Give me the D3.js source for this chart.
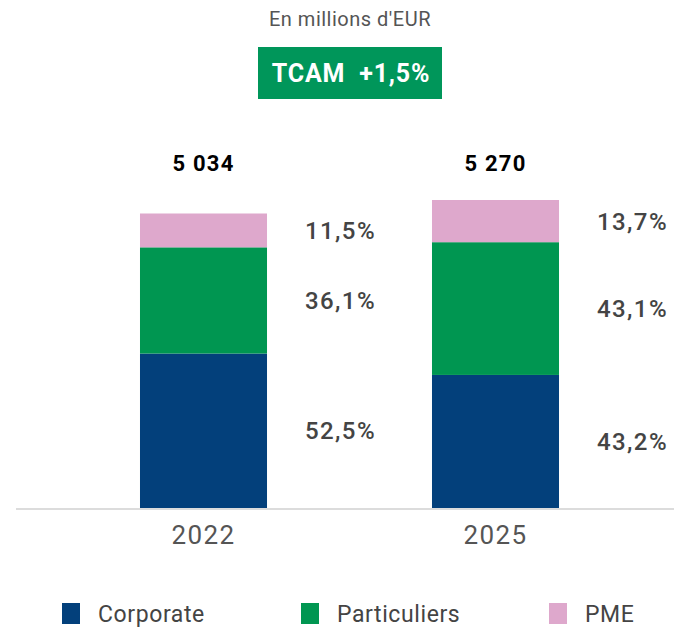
<!DOCTYPE html>
<html><head><meta charset="utf-8">
<script src="https://cdn.jsdelivr.net/npm/d3@7"></script>
<style>body{margin:0;background:#fff;}svg{display:block;}</style>
</head><body>
<svg id="c" width="674" height="628"></svg>
<script>
const years = ["2022", "2025"];
const totals = [5034, 5270];
const totalLabels = ["5 034", "5 270"];
const series = ["Corporate", "Particuliers", "PME"];
const shareCorporate = [52.5, 43.2];
const shareParticuliers = [36.1, 43.1];
const sharePME = [11.5, 13.7];
const colors = ["#03407b", "#009651", "#dea8cc"];
const title = "En millions d'EUR";
const cagrLabel = "TCAM  +1,5%";

const shares = [shareCorporate, shareParticuliers, sharePME];
const rows = years.map((y, i) => {
  const r = {year: y, total: totals[i]};
  series.forEach((s, k) => { r[s] = totals[i] * shares[k][i] / 100; r[s + "_pct"] = shares[k][i]; });
  return r;
});

const svg = d3.select("#c");
const font = "Roboto, 'Noto Sans', sans-serif";

const x = d3.scaleBand().domain(years).range([57.5, 641.5]).paddingInner(0.565).paddingOuter(0.2825);
const y = d3.scaleLinear().domain([0, 5270]).range([508, 200]);

const stack = d3.stack().keys(series)(rows);

svg.append("text").attr("x", 350).attr("y", 26).attr("text-anchor", "middle")
  .attr("font-family", font).attr("font-size", 20).attr("letter-spacing", 0.5).attr("fill", "#555").text(title);

svg.append("rect").attr("x", 258).attr("y", 47).attr("width", 184).attr("height", 52).attr("fill", "#00965a");
svg.append("text").attr("x", 351).attr("y", 82).attr("text-anchor", "middle").attr("xml:space", "preserve")
  .attr("font-family", font).attr("font-size", 25).attr("font-weight", "bold").attr("letter-spacing", 0.8)
  .attr("fill", "#fff").text(cagrLabel);

stack.forEach((layer, k) => {
  svg.append("g").selectAll("rect").data(layer).join("rect")
    .attr("x", d => x(d.data.year)).attr("width", x.bandwidth())
    .attr("y", d => y(d[1])).attr("height", d => y(d[0]) - y(d[1]))
    .attr("fill", colors[k]);
  svg.append("g").selectAll("text").data(layer).join("text")
    .attr("x", d => x(d.data.year) + x.bandwidth() / 2 + 137)
    .attr("y", d => (y(d[0]) + y(d[1])) / 2 + 8.5)
    .attr("text-anchor", "middle").attr("font-family", font).attr("font-size", 24).attr("font-weight", 500)
    .attr("letter-spacing", 1.4).attr("fill", "#444")
    .text(d => d.data[series[k] + "_pct"].toFixed(1).replace(".", ",") + "%");
});

svg.append("g").selectAll("text").data(rows).join("text")
  .attr("x", d => x(d.year) + x.bandwidth() / 2).attr("y", 171)
  .attr("text-anchor", "middle").attr("font-family", font).attr("font-size", 22).attr("font-weight", "bold")
  .attr("letter-spacing", 1.2).attr("fill", "#000").text((d, i) => totalLabels[i]);

svg.append("line").attr("x1", 16).attr("x2", 674).attr("y1", 509).attr("y2", 509)
  .attr("stroke", "#dcdcdc").attr("stroke-width", 2);

const ax = svg.append("g").attr("transform", "translate(0,510)")
  .call(d3.axisBottom(x).tickSize(0).tickPadding(16));
ax.select(".domain").remove();
ax.selectAll("text").attr("font-family", font).attr("font-size", 26).attr("letter-spacing", 1.4).attr("fill", "#555");

const legX = [62, 301, 549];
const leg = svg.append("g").selectAll("g").data(series).join("g")
  .attr("transform", (d, i) => `translate(${legX[i]},603)`);
leg.append("rect").attr("width", 18).attr("height", 21).attr("fill", (d, i) => colors[i]);
leg.append("text").attr("x", 36).attr("y", 19).attr("font-family", font).attr("font-size", 23)
  .attr("letter-spacing", 0.6).attr("fill", "#444").text(d => d);
</script>
</body></html>
